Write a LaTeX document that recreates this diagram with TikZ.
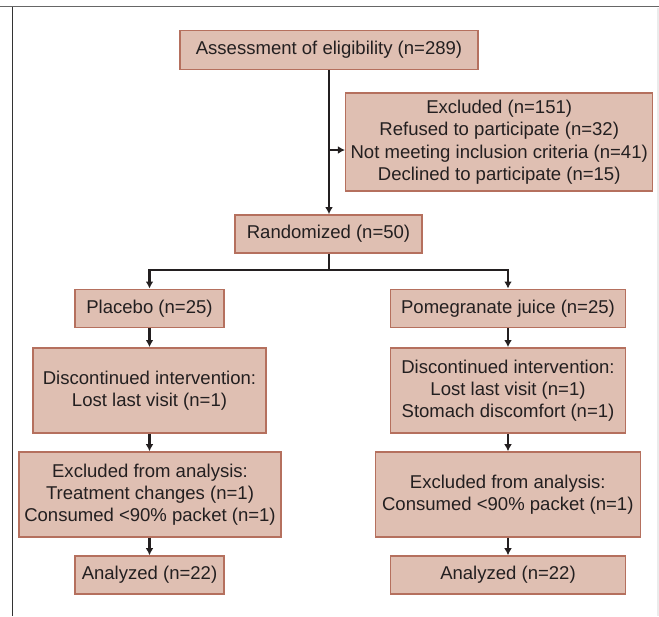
\documentclass[tikz,border=0pt]{standalone}
\usepackage{fontspec}
\setmainfont{Liberation Sans}
\usetikzlibrary{arrows.meta}
\definecolor{boxfill}{HTML}{DFBFB2}
\definecolor{boxline}{HTML}{B5705E}
\definecolor{ink}{HTML}{231F20}
\begin{document}
\begin{tikzpicture}[x=0.02cm,y=-0.02cm]
		\tikzset{box/.style = {shape=rectangle,draw=boxline,fill=boxfill,line width=0.85pt,inner sep=0pt,align=center,text=ink,font=\fontsize{10.55}{12.6}\selectfont}}
		\tikzset{flow/.style = {->,> = {Latex[length=4pt,width=4.4pt]},draw=ink,line width=1.15pt}}
		\useasboundingbox (0,0) rectangle (659,616);
		% frame
		\draw[line width=0.9pt,draw=black!60] (0,6.7) -- (659,6.7);
		\draw[line width=0.9pt,draw=black!80] (12.7,6.7) -- (12.7,616);
		\draw[line width=0.6pt,draw=black!8] (658,8) -- (658,616);
		% top
		\node[box,minimum width=5.96cm,minimum height=0.772cm] (assess) at (329,50) {Assessment of eligibility (n=289)};
		\node[box,minimum width=6.14cm,minimum height=1.96cm] (excl) at (499.2,142.2) {Excluded (n=151)\\Refused to participate (n=32)\\Not meeting inclusion criteria (n=41)\\Declined to participate (n=15)};
		\node[box,minimum width=3.74cm,minimum height=0.76cm] (rand) at (328.5,233.9) {Randomized (n=50)};
		% left arm
		\node[box,minimum width=2.98cm,minimum height=0.768cm] (placebo) at (149.5,308.5) {Placebo (n=25)};
		\node[box,minimum width=4.67cm,minimum height=1.706cm] (stopL) at (149.5,390.5) {Discontinued intervention:\\Lost last visit (n=1)};
		\node[box,minimum width=5.24cm,minimum height=1.7cm] (dropL) at (150,494.5) {Excluded from analysis:\\Treatment changes (n=1)\\Consumed {<}90\% packet (n=1)};
		\node[box,minimum width=2.98cm,minimum height=0.76cm] (doneL) at (149.5,575) {Analyzed (n=22)};
		% right arm
		\node[box,minimum width=4.692cm,minimum height=0.768cm] (juice) at (508,308.5) {Pomegranate juice (n=25)};
		\node[box,minimum width=4.692cm,minimum height=1.706cm] (stopR) at (508,390.5) {Discontinued intervention:\\Lost last visit (n=1)\\Stomach discomfort (n=1)};
		\node[box,minimum width=5.3cm,minimum height=1.7cm] (dropR) at (507.8,494.5) {Excluded from analysis:\\Consumed {<}90\% packet (n=1)};
		\node[box,minimum width=4.692cm,minimum height=0.76cm] (doneR) at (508,575) {Analyzed (n=22)};
		\coordinate (tap) at (329,150);
		\coordinate (split) at (329,270);
		\path[flow] (assess.south) -- (assess.south |- rand.north);
		\path[flow] (tap) -- (tap -| excl.west);
		\path[draw=ink,line width=1.15pt] (rand.south -| split) -- (split);
		\path[flow] (split) -| (placebo.north);
		\path[flow] (split) -| (juice.north);
		\path[flow] (placebo) -- (stopL);
		\path[flow] (stopL) -- (dropL.north -| stopL.south);
		\path[flow] (dropL.south -| doneL.north) -- (doneL);
		\path[flow] (juice) -- (stopR);
		\path[flow] (stopR) -- (dropR.north -| stopR.south);
		\path[flow] (dropR.south -| doneR.north) -- (doneR);
	\end{tikzpicture}
\end{document}
